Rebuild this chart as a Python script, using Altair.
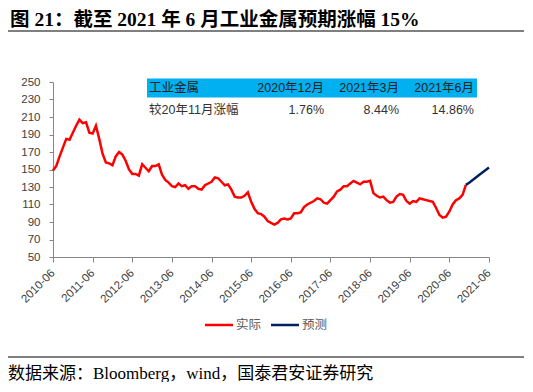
import altair as alt
import pandas as pd

# ---------------- data ----------------
actual_start = "2010-06"
actual_values = [
    149, 154, 165, 175, 185, 184, 192, 200, 207, 203, 204, 192,
    191, 200, 185, 168, 158, 157, 155, 165, 170, 167, 160, 150,
    145, 145, 143, 156, 152, 148, 154, 154, 156, 144, 138, 135,
    131, 130, 134, 131, 132, 128, 131, 131, 128, 127, 132, 134,
    136, 141, 140, 136, 132, 133, 127, 119, 118, 118, 120, 124,
    113, 105, 100, 99, 96, 91, 89, 87, 89, 93, 94, 93,
    94, 100, 100, 101, 107, 110, 112, 114, 117, 116, 112, 111,
    115, 119, 125, 127, 131, 131, 134, 137, 135, 133, 136, 136,
    137, 123, 120, 118, 119, 115, 112, 113, 119, 122, 121, 114,
    111, 114, 113, 117, 116, 115, 114, 113, 106, 98, 95, 96,
    102, 110, 115, 117, 121, 132.5,
]
forecast_months = ["2020-11", "2020-12", "2021-03", "2021-06"]
forecast_values = [132.5, 134.8, 143.7, 152.2]

x_tick_labels = ["2010-06", "2011-06", "2012-06", "2013-06", "2014-06", "2015-06",
                 "2016-06", "2017-06", "2018-06", "2019-06", "2020-06", "2021-06"]
y_ticks = [50, 70, 90, 110, 130, 150, 170, 190, 210, 230, 250]

table_header = ["工业金属", "2020年12月", "2021年3月", "2021年6月"]
table_row = ["较20年11月涨幅", "1.76%", "8.44%", "14.86%"]
legend_labels = ["实际", "预测"]
title_text = "图 21：截至 2021 年 6 月工业金属预期涨幅 15%"
source_text = "数据来源：Bloomberg，wind，国泰君安证券研究"


def month_index(s):
    y, m = s.split("-")
    return (int(y) - 2010) * 12 + int(m) - 6


start = month_index(actual_start)
series_df = pd.concat([
    pd.DataFrame({
        "m": [start + i for i in range(len(actual_values))],
        "v": actual_values,
        "s": legend_labels[0],
    }),
    pd.DataFrame({
        "m": [month_index(s) for s in forecast_months],
        "v": forecast_values,
        "s": legend_labels[1],
    }),
], ignore_index=True)

# ---------------- style ----------------
RED = "#FF0000"
NAVY = "#002060"
CYAN = "#00B0F0"
AXIS_GRAY = "#868686"
LABEL = "#404040"
SANS = "Liberation Sans, Noto Sans CJK SC"
SERIF = "Liberation Serif, Noto Sans CJK SC"
W, H = 436, 175

x_scale = alt.Scale(domain=[0, month_index(x_tick_labels[-1])], nice=False, zero=False)
y_scale = alt.Scale(domain=[y_ticks[0], y_ticks[-1]], nice=False, zero=False)

x_axis = alt.Axis(
    values=[month_index(s) for s in x_tick_labels],
    labelExpr="(2010 + floor(datum.value / 12)) + '-06'",
    labelAngle=-45, labelAlign="right", labelBaseline="middle",
    labelOverlap=False, labelFlush=False,
    labelFont=SANS, labelFontSize=11.5, labelColor=LABEL, labelPadding=9,
    domainColor=AXIS_GRAY, tickColor=AXIS_GRAY, tickSize=5, grid=False, title=None,
)
y_axis = alt.Axis(
    values=y_ticks, labelOverlap=False, labelFlush=False,
    labelFont=SANS, labelFontSize=11.5, labelColor=LABEL,
    domainColor=AXIS_GRAY, tickColor=AXIS_GRAY, tickSize=4, grid=False, title=None,
    labelPadding=9,
)

lines = alt.Chart(series_df).mark_line(strokeWidth=2.5).encode(
    x=alt.X("m:Q", scale=x_scale, axis=x_axis),
    y=alt.Y("v:Q", scale=y_scale, axis=y_axis),
    color=alt.Color("s:N", scale=alt.Scale(domain=legend_labels, range=[RED, NAVY]), legend=None),
    order=alt.Order("m:Q"),
)

layers = [lines]


def text_layer(txt, x, y, size=12, align="left", font=SANS, weight="normal", color=LABEL):
    return alt.Chart(pd.DataFrame({"t": [txt]})).mark_text(
        align=align, baseline="middle", fontSize=size, font=font,
        fontWeight=weight, color=color,
    ).encode(x=alt.value(x), y=alt.value(y), text="t:N")


def rule_layer(x1, x2, y, color="#000000", width=1.0):
    return alt.Chart(pd.DataFrame({"a": [0]})).mark_rule(
        color=color, strokeWidth=width
    ).encode(x=alt.value(x1), x2=alt.value(x2), y=alt.value(y))


# title + rules  (plot origin is at page (53, 82))
layers.append(text_layer(title_text, -43, -62.5, size=19.5, font=SERIF, weight="bold", color="#000000"))
layers.append(rule_layer(-45, 471, -51, width=1.2))
layers.append(rule_layer(-45, 471, 275, width=1.2))
layers.append(text_layer(source_text, -45, 291.5, size=17, font=SERIF, color="#000000"))

# inset table
layers.append(
    alt.Chart(pd.DataFrame({"a": [0]})).mark_rect(color=CYAN).encode(
        x=alt.value(94), x2=alt.value(424), y=alt.value(-3.5), y2=alt.value(15.5)
    )
)
col_x = [96, 271, 346, 421]
col_align = ["left", "right", "right", "right"]
for txt, cx, al in zip(table_header, col_x, col_align):
    layers.append(text_layer(txt, cx, 6, size=12.5, align=al, color="#222222"))
for txt, cx, al in zip(table_row, col_x, col_align):
    layers.append(text_layer(txt, cx, 27.5, size=12.5, align=al, color="#333333"))

# legend
layers.append(rule_layer(152, 180, 243, color=RED, width=2.5))
layers.append(text_layer(legend_labels[0], 183, 243, size=12.5, color="#595959"))
layers.append(rule_layer(218, 246, 243, color=NAVY, width=2.5))
layers.append(text_layer(legend_labels[1], 249, 243, size=12.5, color="#595959"))

chart = alt.layer(*layers).properties(
    width=W, height=H,
    autosize=alt.AutoSizeParams(type="none"),
    padding={"left": 45, "top": 74, "right": 35, "bottom": 125},
    background="white",
).configure_view(stroke=None).configure_axis(labelOverlap=False)

chart.save("out.html", embed_options={"renderer": "svg", "actions": False})
